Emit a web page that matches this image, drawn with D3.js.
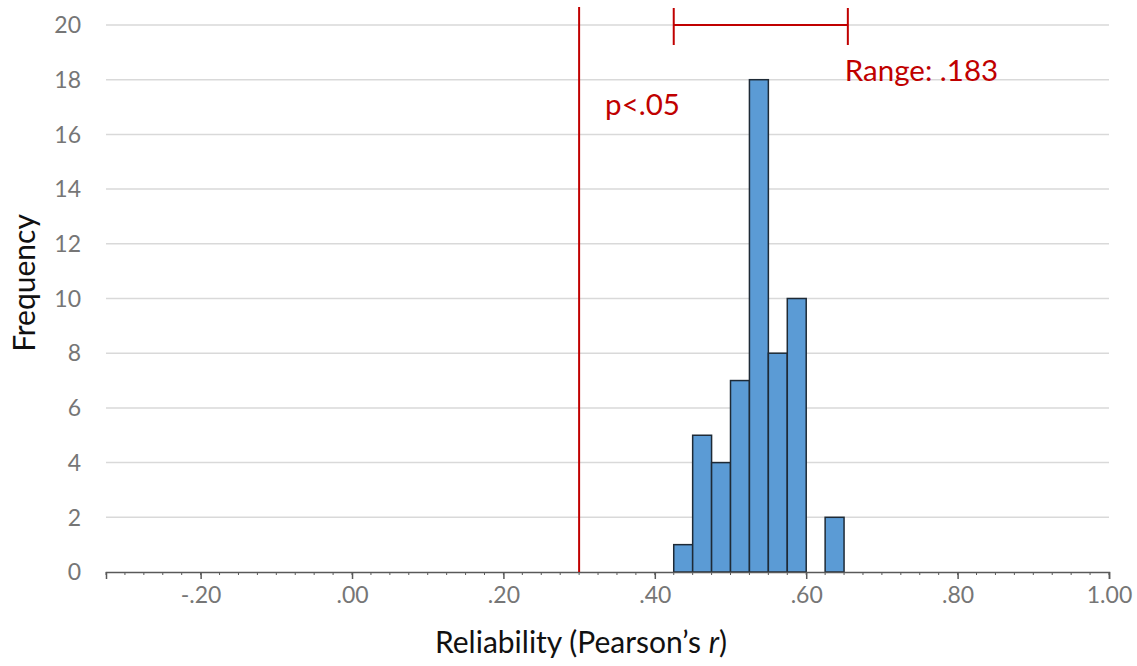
<!DOCTYPE html>
<html>
<head>
<meta charset="utf-8">
<script src="https://cdn.jsdelivr.net/npm/d3@7"></script>
<style>
  body { margin: 0; background: #fff; }
  text { font-family: Lato, "Open Sans", sans-serif; }
</style>
</head>
<body>
<div id="chart"></div>
<script>
"use strict";
// histogram bins (left edges) and counts
var binStarts = [0.425, 0.45, 0.475, 0.5, 0.525, 0.55, 0.575, 0.6, 0.625];
var counts = [1, 5, 4, 7, 18, 8, 10, 0, 2];
var binWidth = 0.025;

var xTicks = [-0.2, 0, 0.2, 0.4, 0.6, 0.8, 1.0];
var yTicks = [0, 2, 4, 6, 8, 10, 12, 14, 16, 18, 20];

// annotations
var cutoff = 0.30;
var rangeEnds = [0.425, 0.655];
var rangeLabel = "Range: .183";
var cutoffLabel = "p<.05";

var w = 1137, h = 666;
var red = "#c00000";

var x = d3.scaleLinear().domain([-0.325, 1.0]).range([106, 1109]);
var y = d3.scaleLinear().domain([0, 20]).range([572, 25]);

var svg = d3.select("#chart").append("svg")
  .attr("width", w)
  .attr("height", h);

// gridlines
svg.append("g").selectAll("line")
  .data(yTicks.slice(1))
  .enter().append("line")
  .attr("x1", x.range()[0]).attr("x2", x.range()[1])
  .attr("y1", function(d) { return y(d); })
  .attr("y2", function(d) { return y(d); })
  .attr("stroke", "#d9d9d9")
  .attr("stroke-width", 1.5);

// y labels
svg.append("g").selectAll("text")
  .data(yTicks)
  .enter().append("text")
  .attr("x", 81)
  .attr("y", function(d) { return y(d); })
  .attr("dy", "0.36em")
  .attr("text-anchor", "end")
  .attr("fill", "#767676")
  .attr("font-size", 23)
  .text(function(d) { return d; });

// bars
svg.append("g").selectAll("rect")
  .data(binStarts.map(function(b, i) { return { x0: b, n: counts[i] }; })
    .filter(function(d) { return d.n > 0; }))
  .enter().append("rect")
  .attr("x", function(d) { return x(d.x0); })
  .attr("width", function(d) { return x(d.x0 + binWidth) - x(d.x0); })
  .attr("y", function(d) { return y(d.n); })
  .attr("height", function(d) { return y(0) - y(d.n); })
  .attr("fill", "#5b9bd5")
  .attr("stroke", "#1e2a36")
  .attr("stroke-width", 1.5);

// x axis with minor ticks every .025; plain hyphen for negatives
var fmt = function(d) {
  var s = d3.format(".2f")(d).replace("\u2212", "-");
  return s.replace(/^(-?)0\./, "$1.");
};
var xAxis = d3.axisBottom(x)
  .tickValues(xTicks)
  .tickSize(7)
  .tickPadding(8)
  .tickFormat(fmt);

var minor = d3.range(-13, 41).map(function(i) { return i * 0.025; });
svg.append("g").selectAll("line")
  .data(minor)
  .enter().append("line")
  .attr("x1", function(d) { return x(d); })
  .attr("x2", function(d) { return x(d); })
  .attr("y1", y(0)).attr("y2", y(0) + 3)
  .attr("stroke", "#595959")
  .attr("stroke-width", 1);

var gx = svg.append("g")
  .attr("transform", "translate(0," + y(0) + ")")
  .call(xAxis);
gx.select(".domain").attr("stroke", "#595959").attr("stroke-width", 1.5);
gx.selectAll(".tick line").attr("stroke", "#595959").attr("stroke-width", 1.5);
gx.selectAll(".tick text")
  .attr("fill", "#767676")
  .attr("font-size", 23)
  .attr("font-family", "Lato, sans-serif");

// cutoff line
svg.append("line")
  .attr("x1", x(cutoff)).attr("x2", x(cutoff))
  .attr("y1", 7).attr("y2", y(0))
  .attr("stroke", red)
  .attr("stroke-width", 2);

svg.append("text")
  .attr("x", x(cutoff) + 26)
  .attr("y", 115)
  .attr("fill", red)
  .attr("font-size", 29.5)
  .text(cutoffLabel);

// range bracket
var rg = svg.append("g").attr("stroke", red).attr("stroke-width", 2);
rg.append("line")
  .attr("x1", x(rangeEnds[0])).attr("x2", x(rangeEnds[1]))
  .attr("y1", 25).attr("y2", 25);
rg.selectAll(".cap")
  .data(rangeEnds)
  .enter().append("line")
  .attr("x1", function(d) { return x(d); })
  .attr("x2", function(d) { return x(d); })
  .attr("y1", 8).attr("y2", 45);

svg.append("text")
  .attr("x", x(rangeEnds[1]) - 3)
  .attr("y", 81)
  .attr("fill", red)
  .attr("font-size", 29.5)
  .text(rangeLabel);

// axis titles
var xt = svg.append("text")
  .attr("x", 581)
  .attr("y", 653)
  .attr("text-anchor", "middle")
  .attr("fill", "#111")
  .attr("font-size", 30);
xt.append("tspan").text("Reliability (Pearson\u2019s ");
xt.append("tspan").attr("font-style", "italic").text("r");
xt.append("tspan").text(")");

svg.append("text")
  .attr("transform", "translate(35,283) rotate(-90)")
  .attr("text-anchor", "middle")
  .attr("fill", "#111")
  .attr("font-size", 30)
  .text("Frequency");
</script>
</body>
</html>
